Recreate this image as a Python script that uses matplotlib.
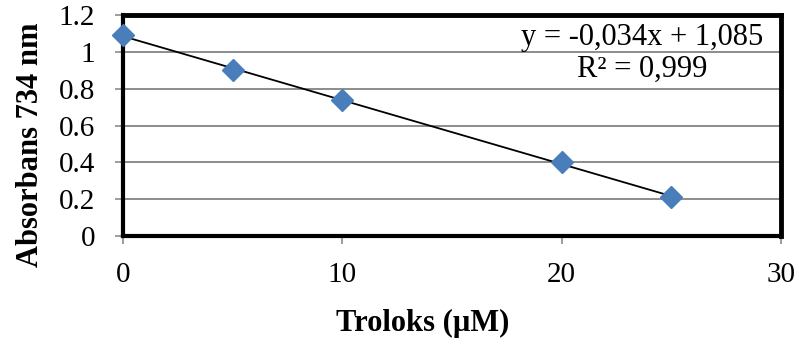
import numpy as np
import matplotlib
matplotlib.use('Agg')
from matplotlib import pyplot as plt

# data
troloks = [0, 5, 10, 20, 25]
absorbans = [1.09, 0.90, 0.74, 0.40, 0.21]
x_ticks = [0, 10, 20, 30]
y_ticks = [0, 0.2, 0.4, 0.6, 0.8, 1, 1.2]
y_tick_labels = ['0', '0.2', '0.4', '0.6', '0.8', '1', '1.2']
equation = 'y = -0,034x + 1,085\nR² = 0,999'

plt.rcParams['font.family'] = ['Liberation Serif', 'DejaVu Serif']

W, H = 799, 347
fig = plt.figure(figsize=(W / 100, H / 100), dpi=100)
ax = fig.add_axes([123 / W, 1 - 236 / H, (781 - 123) / W, (236 - 15) / H])

ax.set_xlim(0, 30)
ax.set_ylim(0, 1.2)

# grid
ax.set_yticks(y_ticks)
ax.set_yticklabels(y_tick_labels)
ax.set_xticks(x_ticks)
ax.grid(True, axis='y', color='#8c8c8c', linewidth=1.4)
ax.set_axisbelow(True)

# trendline (linear fit)
coef = np.polyfit(troloks, absorbans, 1)
xs = np.array([min(troloks), max(troloks)])
ax.plot(xs, np.polyval(coef, xs), color='black', linewidth=1.3, zorder=3)

ax.plot(troloks, absorbans, linestyle='none', marker='D', markersize=11,
        color='#4a7ebb', markeredgecolor='#4a7ebb', zorder=4, clip_on=False)

for s in ax.spines.values():
    s.set_color('black')
    s.set_linewidth(3)
ax.spines['top'].set_linewidth(3.5)
ax.spines['right'].set_linewidth(3.5)

ax.tick_params(axis='both', colors='#8c8c8c', labelcolor='black', labelsize=21,
               width=1.2, length=6)
ax.tick_params(axis='x', pad=13)
ax.tick_params(axis='y', pad=14)

fig.text(642 / W, 1 - 23 / H, equation, ha='center', va='top', multialignment='center',
         fontsize=22, linespacing=1.12)

fig.text(30 / W, 1 - 145 / H, 'Absorbans 734 nm', rotation=90, ha='center', va='center',
         fontsize=22, fontweight='bold')
fig.text(423 / W, 1 - 323 / H, 'Troloks (µM)', ha='center', va='center',
         fontsize=22, fontweight='bold')

plt.savefig('out.png', dpi=100)
